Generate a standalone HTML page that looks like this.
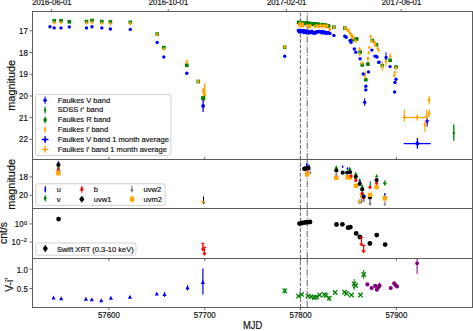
<!DOCTYPE html>
<html><head><meta charset="utf-8"><style>
html,body{margin:0;padding:0;background:#fff;}
svg{display:block;}
text{font-family:"Liberation Sans",sans-serif;fill:#111;stroke:#111;stroke-width:0.17px;}
</style></head><body>
<svg width="473" height="331" viewBox="0 0 473 331">
<rect width="473" height="331" fill="#fff"/>
<defs><clipPath id="c1"><rect x="32.5" y="11.5" width="440.0" height="148.0"/></clipPath>
<clipPath id="c2"><rect x="32.5" y="159.5" width="440.0" height="49.0"/></clipPath>
<clipPath id="c3"><rect x="32.5" y="208.5" width="440.0" height="50.0"/></clipPath>
<clipPath id="c4"><rect x="32.5" y="258.5" width="440.0" height="49.0"/></clipPath></defs>
<g><line x1="300.4" y1="159.5" x2="300.4" y2="11.5" stroke="#4a4a4a" stroke-width="0.85" stroke-dasharray="3.7 1.6"/>
<line x1="307.2" y1="159.5" x2="307.2" y2="11.5" stroke="#4a4a4a" stroke-width="0.85" stroke-dasharray="6.4 1.6 1 1.6"/>
<line x1="300.4" y1="208.5" x2="300.4" y2="159.5" stroke="#4a4a4a" stroke-width="0.85" stroke-dasharray="3.7 1.6"/>
<line x1="307.2" y1="208.5" x2="307.2" y2="159.5" stroke="#4a4a4a" stroke-width="0.85" stroke-dasharray="6.4 1.6 1 1.6"/>
<line x1="300.4" y1="258.5" x2="300.4" y2="208.5" stroke="#4a4a4a" stroke-width="0.85" stroke-dasharray="3.7 1.6"/>
<line x1="307.2" y1="258.5" x2="307.2" y2="208.5" stroke="#4a4a4a" stroke-width="0.85" stroke-dasharray="6.4 1.6 1 1.6"/>
<line x1="300.4" y1="307.5" x2="300.4" y2="258.5" stroke="#4a4a4a" stroke-width="0.85" stroke-dasharray="3.7 1.6"/>
<line x1="307.2" y1="307.5" x2="307.2" y2="258.5" stroke="#4a4a4a" stroke-width="0.85" stroke-dasharray="6.4 1.6 1 1.6"/></g>
<g><circle cx="50" cy="26.8" r="1.7" fill="#0000ff"/>
<rect x="52.4" y="19" width="3.6" height="3.6" fill="#008000"/>
<path d="M54.2 20.45L55.7 22.6L54.2 24.75L52.7 22.6Z" fill="#ffa500"/>
<circle cx="54.2" cy="27.9" r="1.7" fill="#0000ff"/>
<rect x="59.2" y="19" width="3.6" height="3.6" fill="#008000"/>
<path d="M61 20.45L62.5 22.6L61 24.75L59.5 22.6Z" fill="#ffa500"/>
<circle cx="61" cy="27.9" r="1.7" fill="#0000ff"/>
<rect x="67.5" y="20" width="3.6" height="3.6" fill="#008000"/>
<circle cx="69.3" cy="26.9" r="1.7" fill="#0000ff"/>
<rect x="84.7" y="19.8" width="3.6" height="3.6" fill="#008000"/>
<path d="M86.5 20.75L88 22.9L86.5 25.05L85 22.9Z" fill="#ffa500"/>
<circle cx="86.5" cy="27.9" r="1.7" fill="#0000ff"/>
<rect x="90.2" y="18.7" width="3.6" height="3.6" fill="#008000"/>
<path d="M92 20.25L93.5 22.4L92 24.55L90.5 22.4Z" fill="#ffa500"/>
<circle cx="92" cy="26.8" r="1.7" fill="#0000ff"/>
<rect x="100" y="19.8" width="3.6" height="3.6" fill="#008000"/>
<path d="M101.8 21.05L103.3 23.2L101.8 25.35L100.3 23.2Z" fill="#ffa500"/>
<circle cx="101.8" cy="27.9" r="1.7" fill="#0000ff"/>
<rect x="108.6" y="20.1" width="3.6" height="3.6" fill="#008000"/>
<path d="M110.4 21.55L111.9 23.7L110.4 25.85L108.9 23.7Z" fill="#ffa500"/>
<circle cx="110.4" cy="29" r="1.7" fill="#0000ff"/>
<rect x="128.5" y="20.5" width="3.6" height="3.6" fill="#008000"/>
<path d="M130.3 21.35L131.8 23.5L130.3 25.65L128.8 23.5Z" fill="#ffa500"/>
<circle cx="130.3" cy="29.4" r="1.7" fill="#0000ff"/>
<rect x="155.4" y="32.3" width="3.6" height="3.6" fill="#008000"/>
<path d="M157.2 32.45L158.7 34.6L157.2 36.75L155.7 34.6Z" fill="#ffa500"/>
<circle cx="157.2" cy="42.5" r="1.7" fill="#0000ff"/>
<rect x="162" y="45.8" width="3.6" height="3.6" fill="#008000"/>
<path d="M163.8 46.75L165.3 48.9L163.8 51.05L162.3 48.9Z" fill="#ffa500"/>
<circle cx="163.8" cy="57" r="1.7" fill="#0000ff"/>
<rect x="185" y="63.4" width="3.6" height="3.6" fill="#008000"/>
<path d="M186.8 59.65L188.3 61.8L186.8 63.95L185.3 61.8Z" fill="#ffa500"/>
<circle cx="186.8" cy="73.3" r="1.7" fill="#0000ff"/>
<rect x="196.5" y="79.7" width="3.6" height="3.6" fill="#008000"/>
<path d="M198.3 79.35L199.8 81.5L198.3 83.65L196.8 81.5Z" fill="#ffa500"/>
<rect x="282.9" y="45.4" width="3.6" height="3.6" fill="#008000"/>
<path d="M284.7 44.75L286.2 46.9L284.7 49.05L283.2 46.9Z" fill="#ffa500"/>
<circle cx="284.7" cy="56.3" r="1.7" fill="#0000ff"/>
<line x1="204.6" y1="83.3" x2="204.6" y2="101.4" stroke="#ffa500" stroke-width="1.4"/>
<path d="M203.6 87.7L205.7 90.5L203.6 93.3L201.5 90.5Z" fill="#ffa500"/>
<path d="M204.6 92.5L206.5 95.1L204.6 97.7L202.7 95.1Z" fill="#ffa500"/>
<path d="M204 90.3L205.7 92.6L204 94.9L202.3 92.6Z" fill="#ffa500"/>
<rect x="201.1" y="96.1" width="4" height="4" fill="#008000"/>
<line x1="203.1" y1="100" x2="203.1" y2="112" stroke="#0000ff" stroke-width="1.3"/>
<circle cx="203.1" cy="106" r="1.9" fill="#0000ff"/>
<line x1="186.8" y1="59.5" x2="186.8" y2="64" stroke="#ffa500" stroke-width="1"/>
<rect x="296.8" y="20.58" width="3.6" height="3.6" fill="#008000"/>
<rect x="298.3" y="20.85" width="3.6" height="3.6" fill="#008000"/>
<rect x="299.8" y="21.07" width="3.6" height="3.6" fill="#008000"/>
<rect x="301.3" y="21.36" width="3.6" height="3.6" fill="#008000"/>
<rect x="302.8" y="21.37" width="3.6" height="3.6" fill="#008000"/>
<rect x="304.3" y="21.68" width="3.6" height="3.6" fill="#008000"/>
<rect x="305.8" y="21.14" width="3.6" height="3.6" fill="#008000"/>
<rect x="307.3" y="21.66" width="3.6" height="3.6" fill="#008000"/>
<rect x="308.8" y="22.22" width="3.6" height="3.6" fill="#008000"/>
<rect x="310.3" y="22.16" width="3.6" height="3.6" fill="#008000"/>
<rect x="311.8" y="22.53" width="3.6" height="3.6" fill="#008000"/>
<rect x="313.3" y="22.07" width="3.6" height="3.6" fill="#008000"/>
<rect x="314.8" y="22.53" width="3.6" height="3.6" fill="#008000"/>
<rect x="316.3" y="22.52" width="3.6" height="3.6" fill="#008000"/>
<rect x="317.8" y="22.93" width="3.6" height="3.6" fill="#008000"/>
<rect x="319.3" y="23.13" width="3.6" height="3.6" fill="#008000"/>
<rect x="320.8" y="22.85" width="3.6" height="3.6" fill="#008000"/>
<rect x="322.3" y="23.19" width="3.6" height="3.6" fill="#008000"/>
<rect x="323.8" y="23.41" width="3.6" height="3.6" fill="#008000"/>
<rect x="325.3" y="24.09" width="3.6" height="3.6" fill="#008000"/>
<rect x="326.8" y="24.15" width="3.6" height="3.6" fill="#008000"/>
<path d="M299 22.5L300.6 24.8L299 27.1L297.4 24.8Z" fill="#ffa500"/>
<path d="M300.2 20.9L301.8 23.2L300.2 25.5L298.6 23.2Z" fill="#ffa500"/>
<path d="M301.5 22.9L303.1 25.2L301.5 27.5L299.9 25.2Z" fill="#ffa500"/>
<path d="M302.8 21.5L304.4 23.8L302.8 26.1L301.2 23.8Z" fill="#ffa500"/>
<path d="M303.2 23.5L304.8 25.8L303.2 28.1L301.6 25.8Z" fill="#ffa500"/>
<path d="M300.8 23.7L302.4 26L300.8 28.3L299.2 26Z" fill="#ffa500"/>
<path d="M307.2 23.5L308.8 25.8L307.2 28.1L305.6 25.8Z" fill="#ffa500"/>
<path d="M308.6 24.1L310.2 26.4L308.6 28.7L307 26.4Z" fill="#ffa500"/>
<path d="M310.4 23.3L312 25.6L310.4 27.9L308.8 25.6Z" fill="#ffa500"/>
<path d="M309.5 24.7L311.1 27L309.5 29.3L307.9 27Z" fill="#ffa500"/>
<path d="M315 24.1L316.6 26.4L315 28.7L313.4 26.4Z" fill="#ffa500"/>
<path d="M316.8 23.5L318.4 25.8L316.8 28.1L315.2 25.8Z" fill="#ffa500"/>
<path d="M318.6 24.3L320.2 26.6L318.6 28.9L317 26.6Z" fill="#ffa500"/>
<path d="M320.4 23.1L322 25.4L320.4 27.7L318.8 25.4Z" fill="#ffa500"/>
<path d="M322.3 24.3L323.9 26.6L322.3 28.9L320.7 26.6Z" fill="#ffa500"/>
<path d="M323.8 23.3L325.4 25.6L323.8 27.9L322.2 25.6Z" fill="#ffa500"/>
<path d="M325.6 24.3L327.2 26.6L325.6 28.9L324 26.6Z" fill="#ffa500"/>
<path d="M327.2 23.5L328.8 25.8L327.2 28.1L325.6 25.8Z" fill="#ffa500"/>
<circle cx="298.4" cy="30.53" r="1.75" fill="#0000ff"/>
<circle cx="299.3" cy="31.98" r="1.75" fill="#0000ff"/>
<circle cx="300.2" cy="30.58" r="1.75" fill="#0000ff"/>
<circle cx="301.1" cy="31.68" r="1.75" fill="#0000ff"/>
<circle cx="302" cy="30.65" r="1.75" fill="#0000ff"/>
<circle cx="302.9" cy="30.43" r="1.75" fill="#0000ff"/>
<circle cx="303.8" cy="32.39" r="1.75" fill="#0000ff"/>
<circle cx="304.7" cy="30.98" r="1.75" fill="#0000ff"/>
<circle cx="305.6" cy="31.04" r="1.75" fill="#0000ff"/>
<circle cx="306.5" cy="32.78" r="1.75" fill="#0000ff"/>
<circle cx="307.4" cy="32.59" r="1.75" fill="#0000ff"/>
<circle cx="308.3" cy="31.35" r="1.75" fill="#0000ff"/>
<circle cx="309.2" cy="32.88" r="1.75" fill="#0000ff"/>
<circle cx="310.1" cy="32" r="1.75" fill="#0000ff"/>
<circle cx="311" cy="32.35" r="1.75" fill="#0000ff"/>
<circle cx="311.9" cy="31.36" r="1.75" fill="#0000ff"/>
<circle cx="312.8" cy="33.03" r="1.75" fill="#0000ff"/>
<circle cx="313.7" cy="32.53" r="1.75" fill="#0000ff"/>
<circle cx="314.6" cy="33.19" r="1.75" fill="#0000ff"/>
<circle cx="315.5" cy="33.08" r="1.75" fill="#0000ff"/>
<circle cx="316.4" cy="31.82" r="1.75" fill="#0000ff"/>
<circle cx="317.3" cy="32" r="1.75" fill="#0000ff"/>
<circle cx="318.2" cy="31.62" r="1.75" fill="#0000ff"/>
<circle cx="319.1" cy="31.63" r="1.75" fill="#0000ff"/>
<circle cx="320" cy="31.5" r="1.75" fill="#0000ff"/>
<circle cx="320.9" cy="32.07" r="1.75" fill="#0000ff"/>
<circle cx="321.8" cy="32.78" r="1.75" fill="#0000ff"/>
<circle cx="322.7" cy="31.51" r="1.75" fill="#0000ff"/>
<circle cx="323.6" cy="33.04" r="1.75" fill="#0000ff"/>
<circle cx="324.5" cy="32.34" r="1.75" fill="#0000ff"/>
<circle cx="325.4" cy="32.33" r="1.75" fill="#0000ff"/>
<circle cx="326.3" cy="33.5" r="1.75" fill="#0000ff"/>
<circle cx="327.2" cy="32.8" r="1.75" fill="#0000ff"/>
<circle cx="328.1" cy="32.49" r="1.75" fill="#0000ff"/>
<circle cx="329" cy="32.9" r="1.75" fill="#0000ff"/>
<circle cx="329.9" cy="33.44" r="1.75" fill="#0000ff"/>
<path d="M329.7 27.15L331.2 29.3L329.7 31.45L328.2 29.3Z" fill="#ffa500"/>
<line x1="329.7" y1="27" x2="329.7" y2="31.5" stroke="#ffa500" stroke-width="1"/>
<rect x="332.1" y="25.4" width="3.6" height="3.6" fill="#008000"/>
<path d="M333.9 25.25L335.4 27.4L333.9 29.55L332.4 27.4Z" fill="#ffa500"/>
<circle cx="333.9" cy="35.5" r="1.7" fill="#0000ff"/>
<rect x="343" y="26.3" width="3.6" height="3.6" fill="#008000"/>
<rect x="351.2" y="37.6" width="3.6" height="3.6" fill="#008000"/>
<rect x="354.9" y="37.2" width="3.6" height="3.6" fill="#008000"/>
<rect x="353.6" y="37.7" width="3.6" height="3.6" fill="#008000"/>
<rect x="358.4" y="50.4" width="3.6" height="3.6" fill="#008000"/>
<rect x="360.4" y="63.1" width="3.6" height="3.6" fill="#008000"/>
<rect x="366.1" y="62.3" width="3.6" height="3.6" fill="#008000"/>
<rect x="364" y="77.9" width="3.6" height="3.6" fill="#008000"/>
<rect x="370.5" y="38.7" width="3.6" height="3.6" fill="#008000"/>
<rect x="374.7" y="43" width="3.6" height="3.6" fill="#008000"/>
<rect x="380.5" y="63.8" width="3.6" height="3.6" fill="#008000"/>
<rect x="388.3" y="58.5" width="3.6" height="3.6" fill="#008000"/>
<rect x="394.2" y="65.3" width="3.6" height="3.6" fill="#008000"/>
<path d="M330 26.75L331.5 28.9L330 31.05L328.5 28.9Z" fill="#ffa500"/>
<path d="M344.8 25.75L346.3 27.9L344.8 30.05L343.3 27.9Z" fill="#ffa500"/>
<path d="M348 28.45L349.5 30.6L348 32.75L346.5 30.6Z" fill="#ffa500"/>
<path d="M350.1 30.95L351.6 33.1L350.1 35.25L348.6 33.1Z" fill="#ffa500"/>
<path d="M352.2 34.15L353.7 36.3L352.2 38.45L350.7 36.3Z" fill="#ffa500"/>
<path d="M353.5 35.85L355 38L353.5 40.15L352 38Z" fill="#ffa500"/>
<path d="M359.6 46.85L361.1 49L359.6 51.15L358.1 49Z" fill="#ffa500"/>
<path d="M362.2 60.85L363.7 63L362.2 65.15L360.7 63Z" fill="#ffa500"/>
<path d="M365 72.95L366.5 75.1L365 77.25L363.5 75.1Z" fill="#ffa500"/>
<path d="M368 56.25L369.5 58.4L368 60.55L366.5 58.4Z" fill="#ffa500"/>
<path d="M369.3 45.45L370.8 47.6L369.3 49.75L367.8 47.6Z" fill="#ffa500"/>
<path d="M368.7 50.55L370.2 52.7L368.7 54.85L367.2 52.7Z" fill="#ffa500"/>
<path d="M359.8 51.85L361.3 54L359.8 56.15L358.3 54Z" fill="#ffa500"/>
<path d="M370.6 34.45L372.1 36.6L370.6 38.75L369.1 36.6Z" fill="#ffa500"/>
<path d="M372 38.85L373.5 41L372 43.15L370.5 41Z" fill="#ffa500"/>
<path d="M375 40.45L376.5 42.6L375 44.75L373.5 42.6Z" fill="#ffa500"/>
<path d="M375.5 42.85L377 45L375.5 47.15L374 45Z" fill="#ffa500"/>
<path d="M374.4 40.55L375.9 42.7L374.4 44.85L372.9 42.7Z" fill="#ffa500"/>
<path d="M378.5 48.05L380 50.2L378.5 52.35L377 50.2Z" fill="#ffa500"/>
<path d="M377.8 46.25L379.3 48.4L377.8 50.55L376.3 48.4Z" fill="#ffa500"/>
<path d="M382.3 64.45L383.8 66.6L382.3 68.75L380.8 66.6Z" fill="#ffa500"/>
<path d="M386.1 59.15L387.6 61.3L386.1 63.45L384.6 61.3Z" fill="#ffa500"/>
<path d="M390.3 54.25L391.8 56.4L390.3 58.55L388.8 56.4Z" fill="#ffa500"/>
<path d="M396 65.95L397.5 68.1L396 70.25L394.5 68.1Z" fill="#ffa500"/>
<path d="M395 70.45L396.5 72.6L395 74.75L393.5 72.6Z" fill="#ffa500"/>
<path d="M394.2 73.45L395.7 75.6L394.2 77.75L392.7 75.6Z" fill="#ffa500"/>
<path d="M347 27.35L348.5 29.5L347 31.65L345.5 29.5Z" fill="#ffa500"/>
<path d="M351 32.65L352.5 34.8L351 36.95L349.5 34.8Z" fill="#ffa500"/>
<path d="M348.5 28.35L350 30.5L348.5 32.65L347 30.5Z" fill="#ffa500"/>
<path d="M351.5 32.85L353 35L351.5 37.15L350 35Z" fill="#ffa500"/>
<path d="M353 35.35L354.5 37.5L353 39.65L351.5 37.5Z" fill="#ffa500"/>
<path d="M355.7 38.85L357.2 41L355.7 43.15L354.2 41Z" fill="#ffa500"/>
<line x1="368" y1="56.5" x2="368" y2="62.2" stroke="#ffa500" stroke-width="1"/>
<line x1="365" y1="71" x2="365" y2="79" stroke="#ffa500" stroke-width="1"/>
<line x1="382.3" y1="61" x2="382.3" y2="71" stroke="#ffa500" stroke-width="1"/>
<line x1="386" y1="57" x2="386" y2="66" stroke="#ffa500" stroke-width="1"/>
<line x1="390.3" y1="53" x2="390.3" y2="58" stroke="#ffa500" stroke-width="1"/>
<circle cx="344.8" cy="36.3" r="1.7" fill="#0000ff"/>
<circle cx="346.2" cy="37.2" r="1.7" fill="#0000ff"/>
<circle cx="350.1" cy="40.5" r="1.7" fill="#0000ff"/>
<circle cx="351.1" cy="42.2" r="1.7" fill="#0000ff"/>
<circle cx="354.3" cy="49" r="1.7" fill="#0000ff"/>
<circle cx="355.8" cy="52.2" r="1.7" fill="#0000ff"/>
<circle cx="360.1" cy="58.8" r="1.7" fill="#0000ff"/>
<circle cx="363.2" cy="74" r="1.7" fill="#0000ff"/>
<circle cx="368.5" cy="71.9" r="1.7" fill="#0000ff"/>
<circle cx="371.9" cy="50.1" r="1.7" fill="#0000ff"/>
<circle cx="374.9" cy="56.1" r="1.7" fill="#0000ff"/>
<circle cx="377" cy="57.1" r="1.7" fill="#0000ff"/>
<circle cx="378.7" cy="62.4" r="1.7" fill="#0000ff"/>
<circle cx="386.1" cy="57.5" r="1.7" fill="#0000ff"/>
<circle cx="390.1" cy="66.6" r="1.7" fill="#0000ff"/>
<circle cx="396" cy="79.3" r="1.7" fill="#0000ff"/>
<circle cx="395" cy="82.5" r="1.7" fill="#0000ff"/>
<circle cx="394.6" cy="92" r="1.7" fill="#0000ff"/>
<circle cx="365.8" cy="86.3" r="1.7" fill="#0000ff"/>
<circle cx="365.8" cy="89.9" r="1.7" fill="#0000ff"/>
<circle cx="376.5" cy="56.4" r="1.7" fill="#0000ff"/>
<circle cx="379.1" cy="62.1" r="1.7" fill="#0000ff"/>
<line x1="364.7" y1="98" x2="364.7" y2="106" stroke="#0000ff" stroke-width="1"/>
<circle cx="364.7" cy="102.2" r="1.7" fill="#0000ff"/>
<line x1="386" y1="52.2" x2="386" y2="60" stroke="#0000ff" stroke-width="1"/>
<line x1="403.8" y1="117.5" x2="427.2" y2="117.5" stroke="#ffa500" stroke-width="1.3"/>
<line x1="404.3" y1="110.1" x2="404.3" y2="121.7" stroke="#ffa500" stroke-width="1.2"/>
<path d="M404.3 114.8L406 117.1L404.3 119.4L402.6 117.1Z" fill="#ffa500"/>
<path d="M417.2 115L418.9 117.3L417.2 119.6L415.5 117.3Z" fill="#ffa500"/>
<line x1="417.2" y1="114.5" x2="417.2" y2="120.5" stroke="#ffa500" stroke-width="1.2"/>
<line x1="426.7" y1="110" x2="426.7" y2="122" stroke="#ffa500" stroke-width="1.2"/>
<path d="M426.7 114.1L428.4 116.4L426.7 118.7L425 116.4Z" fill="#ffa500"/>
<line x1="429.2" y1="96.3" x2="429.2" y2="104.4" stroke="#ffa500" stroke-width="1.2"/>
<path d="M429.2 97.8L430.9 100.1L429.2 102.4L427.5 100.1Z" fill="#ffa500"/>
<line x1="429.2" y1="109.5" x2="429.2" y2="117" stroke="#ffa500" stroke-width="1.2"/>
<path d="M429.2 111L430.9 113.3L429.2 115.6L427.5 113.3Z" fill="#ffa500"/>
<line x1="425" y1="120.6" x2="425" y2="132.3" stroke="#ffa500" stroke-width="1.2"/>
<path d="M425 122.6L426.7 124.9L425 127.2L423.3 124.9Z" fill="#ffa500"/>
<line x1="427.2" y1="118.5" x2="427.2" y2="126.5" stroke="#0000ff" stroke-width="1"/>
<path d="M425.2 120.2L429.2 120.2L427.2 124Z" fill="#0000ff"/>
<line x1="453.8" y1="124.5" x2="453.8" y2="140.7" stroke="#008000" stroke-width="1.3"/>
<circle cx="453.8" cy="132.9" r="1.2" fill="#008000"/>
<line x1="403.8" y1="143.6" x2="430.7" y2="143.6" stroke="#0000ff" stroke-width="1.3"/>
<line x1="417.4" y1="138.1" x2="417.4" y2="148.7" stroke="#0000ff" stroke-width="1.3"/>
<circle cx="417.4" cy="143.6" r="2" fill="#0000ff"/>
<rect x="56.2" y="171.1" width="4.4" height="4.4" fill="#ffa500"/>
<line x1="58.4" y1="166.5" x2="58.4" y2="170.18" stroke="#808080" stroke-width="1"/>
<path d="M56.8 169.3L60 169.3L58.4 171.5Z" fill="#808080"/>
<ellipse cx="58.4" cy="162.2" rx="0.8" ry="1.3" fill="#0000ff"/>
<circle cx="58.4" cy="164.9" r="2.1" fill="#000000"/>
<path d="M56.6 171.2L58.4 167.6L60.2 171.2" stroke="#ff0000" stroke-width="1" fill="none"/>
<line x1="57.6" y1="166.5" x2="57.6" y2="169" stroke="#008000" stroke-width="0.8"/>
<line x1="59.2" y1="166.5" x2="59.2" y2="169" stroke="#008000" stroke-width="0.8"/>
<ellipse cx="300.5" cy="165.7" rx="0.6" ry="1" fill="#0000ff" opacity="0.6"/>
<ellipse cx="306.6" cy="164.6" rx="0.8" ry="1.3" fill="#0000ff"/>
<ellipse cx="309" cy="165.7" rx="0.8" ry="1.3" fill="#0000ff"/>
<line x1="310.2" y1="169.5" x2="310.2" y2="173.18" stroke="#808080" stroke-width="1"/>
<path d="M308.6 172.3L311.8 172.3L310.2 174.5Z" fill="#808080"/>
<ellipse cx="306.2" cy="171" rx="1" ry="1" fill="#ff0000" opacity="0.5"/><ellipse cx="308" cy="171" rx="1" ry="1" fill="#ff0000" opacity="0.5"/>
<rect x="304.8" y="171.8" width="4.2" height="4.2" fill="#ffa500"/>
<rect x="305.1" y="172.3" width="4.2" height="4.2" fill="#ffa500"/>
<circle cx="304.3" cy="168.8" r="2.2" fill="#000000"/>
<circle cx="305.8" cy="168.4" r="2.2" fill="#000000"/>
<circle cx="307.5" cy="167.7" r="2.2" fill="#000000"/>
<circle cx="308.4" cy="168" r="2.2" fill="#000000"/>
<rect x="334.1" y="175.6" width="4.4" height="4.4" fill="#ffa500"/>
<line x1="336.3" y1="171.5" x2="336.3" y2="175.18" stroke="#808080" stroke-width="1"/>
<path d="M334.7 174.3L337.9 174.3L336.3 176.5Z" fill="#808080"/>
<path d="M336.3 165.16L338 168.56L334.6 168.56Z" fill="#008000"/>
<line x1="336.3" y1="167.2" x2="336.3" y2="168.7" stroke="#008000" stroke-width="1"/>
<circle cx="336.3" cy="170.4" r="2.1" fill="#000000"/>
<ellipse cx="342.7" cy="166.8" rx="0.8" ry="1.3" fill="#0000ff"/>
<circle cx="342.7" cy="172.7" r="2.1" fill="#000000"/>
<rect x="345.4" y="175" width="4.4" height="4.4" fill="#ffa500"/>
<rect x="347.8" y="175.2" width="4.4" height="4.4" fill="#ffa500"/>
<ellipse cx="347.5" cy="168.6" rx="0.8" ry="1.3" fill="#0000ff"/>
<path d="M349.7 166.56L351.4 169.96L348 169.96Z" fill="#008000"/>
<circle cx="347.2" cy="172.6" r="2.1" fill="#000000"/>
<circle cx="350" cy="172.2" r="2.1" fill="#000000"/>
<ellipse cx="351.2" cy="176" rx="1.5" ry="1.8" fill="#ff0000"/>
<rect x="353.6" y="183.6" width="4.4" height="4.4" fill="#ffa500"/>
<ellipse cx="355.8" cy="180.4" rx="1.5" ry="1.8" fill="#ff0000"/>
<path d="M355.8 171.56L357.5 174.96L354.1 174.96Z" fill="#008000"/>
<line x1="355.8" y1="173.6" x2="355.8" y2="175.1" stroke="#008000" stroke-width="1"/>
<circle cx="355.8" cy="176.8" r="2.1" fill="#000000"/>
<path d="M359.8 177.96L361.5 181.36L358.1 181.36Z" fill="#008000"/>
<line x1="359.8" y1="180" x2="359.8" y2="181.5" stroke="#008000" stroke-width="1"/>
<ellipse cx="359.8" cy="181.5" rx="0.8" ry="1.3" fill="#0000ff"/>
<circle cx="359.8" cy="183.9" r="2.1" fill="#000000"/>
<rect x="360" y="193.5" width="4.4" height="4.4" fill="#ffa500"/>
<ellipse cx="362.2" cy="193.3" rx="1.5" ry="1.8" fill="#ff0000"/>
<path d="M362.2 184.26L363.9 187.66L360.5 187.66Z" fill="#008000"/>
<line x1="362.2" y1="186.3" x2="362.2" y2="187.8" stroke="#008000" stroke-width="1"/>
<circle cx="362.2" cy="189.4" r="2.1" fill="#000000"/>
<line x1="359.8" y1="199" x2="359.8" y2="203.18" stroke="#808080" stroke-width="1"/>
<path d="M358.2 202.3L361.4 202.3L359.8 204.5Z" fill="#808080"/>
<line x1="361.5" y1="198.5" x2="361.5" y2="202.18" stroke="#808080" stroke-width="1"/>
<path d="M359.9 201.3L363.1 201.3L361.5 203.5Z" fill="#808080"/>
<line x1="363.7" y1="197.5" x2="363.7" y2="201.18" stroke="#808080" stroke-width="1"/>
<path d="M362.1 200.3L365.3 200.3L363.7 202.5Z" fill="#808080"/>
<ellipse cx="363.7" cy="198" rx="1.5" ry="1.8" fill="#ff0000"/>
<circle cx="363.7" cy="196.5" r="2.1" fill="#000000"/>
<ellipse cx="363.3" cy="195.7" rx="0.8" ry="1.3" fill="#0000ff"/>
<rect x="357.7" y="200.4" width="2.6" height="2.6" fill="#ffa500"/>
<line x1="370.3" y1="181.3" x2="370.3" y2="186" stroke="#008000" stroke-width="1.1"/>
<line x1="370" y1="200" x2="370" y2="203.68" stroke="#808080" stroke-width="1"/>
<path d="M368.4 202.8L371.6 202.8L370 205Z" fill="#808080"/>
<circle cx="370" cy="197.6" r="2.1" fill="#000000"/>
<rect x="367.8" y="192.7" width="4.4" height="4.4" fill="#ffa500"/>
<ellipse cx="370" cy="187.3" rx="1.5" ry="1.8" fill="#ff0000"/>
<line x1="370" y1="200" x2="370" y2="204.68" stroke="#808080" stroke-width="1"/>
<path d="M368.4 203.8L371.6 203.8L370 206Z" fill="#808080"/>
<rect x="374.4" y="184.8" width="4.4" height="4.4" fill="#ffa500"/>
<ellipse cx="376.6" cy="183.1" rx="1.5" ry="1.8" fill="#ff0000"/>
<path d="M376.6 173.96L378.3 177.36L374.9 177.36Z" fill="#008000"/>
<line x1="376.6" y1="176" x2="376.6" y2="177.5" stroke="#008000" stroke-width="1"/>
<circle cx="376.6" cy="180" r="2.1" fill="#000000"/>
<line x1="384.9" y1="201" x2="384.9" y2="204.68" stroke="#808080" stroke-width="1"/>
<path d="M383.3 203.8L386.5 203.8L384.9 206Z" fill="#808080"/>
<line x1="384.9" y1="180" x2="384.9" y2="183.84" stroke="#008000" stroke-width="1.1"/>
<path d="M382.7 182.4L387.1 182.4L384.9 186Z" fill="#008000"/>
<ellipse cx="384.9" cy="194.2" rx="0.8" ry="1.3" fill="#0000ff"/>
<circle cx="384.9" cy="197.8" r="2.1" fill="#000000"/>
<rect x="382.7" y="196.2" width="4.4" height="4.4" fill="#ffa500"/>
<line x1="203.5" y1="196.3" x2="203.5" y2="202.88" stroke="#000000" stroke-width="1"/>
<path d="M201.9 202L205.1 202L203.5 204.2Z" fill="#000000"/>
<rect x="201.4" y="200.8" width="2.4" height="2.4" fill="#ffa500"/>
<circle cx="58.6" cy="219.1" r="2.4" fill="#000000"/>
<circle cx="299.5" cy="223.6" r="2.4" fill="#000000"/>
<circle cx="302" cy="223" r="2.4" fill="#000000"/>
<circle cx="305" cy="222.5" r="2.4" fill="#000000"/>
<circle cx="307.5" cy="222.2" r="2.4" fill="#000000"/>
<circle cx="310" cy="222" r="2.4" fill="#000000"/>
<circle cx="336.5" cy="224.5" r="2.4" fill="#000000"/>
<circle cx="342.4" cy="224.3" r="2.4" fill="#000000"/>
<circle cx="348.1" cy="227.7" r="2.4" fill="#000000"/>
<circle cx="350.3" cy="227.2" r="2.4" fill="#000000"/>
<circle cx="356.2" cy="233.4" r="2.4" fill="#000000"/>
<circle cx="359.8" cy="237" r="2.4" fill="#000000"/>
<circle cx="376.7" cy="235.1" r="2.4" fill="#000000"/>
<circle cx="369.9" cy="243.5" r="2.4" fill="#000000"/>
<circle cx="385.1" cy="244.6" r="2.4" fill="#000000"/>
<line x1="359.6" y1="237.4" x2="363.4" y2="237.4" stroke="#ff0000" stroke-width="1.1"/>
<line x1="361.4" y1="237.4" x2="361.4" y2="244.68" stroke="#ff0000" stroke-width="1.3"/>
<path d="M359.2 243.4L363.6 243.4L361.4 246.6Z" fill="#ff0000"/>
<line x1="361.6" y1="245.4" x2="365.6" y2="245.4" stroke="#ff0000" stroke-width="1.1"/>
<line x1="363.6" y1="245.4" x2="363.6" y2="251.58" stroke="#ff0000" stroke-width="1.3"/>
<path d="M361.4 250.3L365.8 250.3L363.6 253.5Z" fill="#ff0000"/>
<line x1="201.3" y1="243.3" x2="204.5" y2="243.3" stroke="#ff0000" stroke-width="1.1"/>
<line x1="202.9" y1="243.3" x2="202.9" y2="249.68" stroke="#ff0000" stroke-width="1.3"/>
<path d="M200.7 248.4L205.1 248.4L202.9 251.6Z" fill="#ff0000"/>
<line x1="202.5" y1="247.2" x2="206.3" y2="247.2" stroke="#ff0000" stroke-width="1.1"/>
<line x1="204.4" y1="247.2" x2="204.4" y2="254.08" stroke="#ff0000" stroke-width="1.3"/>
<path d="M202.2 252.8L206.6 252.8L204.4 256Z" fill="#ff0000"/>
<path d="M53.5 295.44L55.55 299.54L51.45 299.54Z" fill="#0000ff"/>
<path d="M61.2 296.14L63.25 300.24L59.15 300.24Z" fill="#0000ff"/>
<path d="M85.9 296.74L87.95 300.84L83.85 300.84Z" fill="#0000ff"/>
<path d="M91.8 297.14L93.85 301.24L89.75 301.24Z" fill="#0000ff"/>
<path d="M101.3 298.24L103.35 302.34L99.25 302.34Z" fill="#0000ff"/>
<path d="M110.9 295.74L112.95 299.84L108.85 299.84Z" fill="#0000ff"/>
<path d="M129.9 294.64L131.95 298.74L127.85 298.74Z" fill="#0000ff"/>
<path d="M156.8 291.44L158.85 295.54L154.75 295.54Z" fill="#0000ff"/>
<path d="M164.5 291.94L166.55 296.04L162.45 296.04Z" fill="#0000ff"/>
<path d="M187.5 285.14L189.55 289.24L185.45 289.24Z" fill="#0000ff"/>
<path d="M202.9 279.84L204.95 283.94L200.85 283.94Z" fill="#0000ff"/>
<line x1="164.5" y1="292" x2="164.5" y2="297" stroke="#0000ff" stroke-width="1"/>
<line x1="187.5" y1="285" x2="187.5" y2="290.5" stroke="#0000ff" stroke-width="1"/>
<line x1="202.9" y1="268.6" x2="202.9" y2="294.4" stroke="#0000ff" stroke-width="1.2"/>
<path d="M282.6 288.6L287 293M282.6 293L287 288.6" stroke="#008000" stroke-width="1.3" fill="none"/>
<path d="M296.3 293.9L300.7 298.3M296.3 298.3L300.7 293.9" stroke="#008000" stroke-width="1.3" fill="none"/>
<path d="M299.5 292.2L303.9 296.6M299.5 296.6L303.9 292.2" stroke="#008000" stroke-width="1.3" fill="none"/>
<path d="M305.9 293.9L310.3 298.3M305.9 298.3L310.3 293.9" stroke="#008000" stroke-width="1.3" fill="none"/>
<path d="M309 294.5L313.4 298.9M309 298.9L313.4 294.5" stroke="#008000" stroke-width="1.3" fill="none"/>
<path d="M312.2 295.3L316.6 299.7M312.2 299.7L316.6 295.3" stroke="#008000" stroke-width="1.3" fill="none"/>
<path d="M314.3 294.9L318.7 299.3M314.3 299.3L318.7 294.9" stroke="#008000" stroke-width="1.3" fill="none"/>
<path d="M317.5 292.8L321.9 297.2M317.5 297.2L321.9 292.8" stroke="#008000" stroke-width="1.3" fill="none"/>
<path d="M322.3 292.2L326.7 296.6M322.3 296.6L326.7 292.2" stroke="#008000" stroke-width="1.3" fill="none"/>
<path d="M323.8 293.4L328.2 297.8M323.8 297.8L328.2 293.4" stroke="#008000" stroke-width="1.3" fill="none"/>
<path d="M327 296L331.4 300.4M327 300.4L331.4 296" stroke="#008000" stroke-width="1.3" fill="none"/>
<path d="M332.9 290.3L337.3 294.7M332.9 294.7L337.3 290.3" stroke="#008000" stroke-width="1.3" fill="none"/>
<path d="M342.2 290L346.6 294.4M342.2 294.4L346.6 290" stroke="#008000" stroke-width="1.3" fill="none"/>
<path d="M344.3 291.3L348.7 295.7M344.3 295.7L348.7 291.3" stroke="#008000" stroke-width="1.3" fill="none"/>
<path d="M349.2 292.8L353.6 297.2M349.2 297.2L353.6 292.8" stroke="#008000" stroke-width="1.3" fill="none"/>
<path d="M351.9 281.6L356.3 286M351.9 286L356.3 281.6" stroke="#008000" stroke-width="1.3" fill="none"/>
<path d="M353.4 283.3L357.8 287.7M353.4 287.7L357.8 283.3" stroke="#008000" stroke-width="1.3" fill="none"/>
<path d="M358.3 292.8L362.7 297.2M358.3 297.2L362.7 292.8" stroke="#008000" stroke-width="1.3" fill="none"/>
<path d="M361.5 272.3L365.9 276.7M361.5 276.7L365.9 272.3" stroke="#008000" stroke-width="1.3" fill="none"/>
<line x1="284.8" y1="288" x2="284.8" y2="293.5" stroke="#008000" stroke-width="1"/>
<line x1="354.1" y1="279" x2="354.1" y2="290" stroke="#008000" stroke-width="1"/>
<line x1="363.7" y1="270" x2="363.7" y2="279" stroke="#008000" stroke-width="1"/>
<line x1="329.2" y1="296" x2="329.2" y2="301" stroke="#008000" stroke-width="1"/>
<circle cx="367.4" cy="284.4" r="2.1" fill="#800080"/>
<circle cx="371.6" cy="288" r="2.1" fill="#800080"/>
<circle cx="375.2" cy="285.9" r="2.1" fill="#800080"/>
<circle cx="376.9" cy="289.7" r="2.1" fill="#800080"/>
<circle cx="378.6" cy="287.2" r="2.1" fill="#800080"/>
<circle cx="379.5" cy="285.5" r="2.1" fill="#800080"/>
<circle cx="390.7" cy="288" r="2.1" fill="#800080"/>
<circle cx="394.2" cy="283.4" r="2.1" fill="#800080"/>
<circle cx="395.5" cy="285.1" r="2.1" fill="#800080"/>
<circle cx="397" cy="286.5" r="2.1" fill="#800080"/>
<line x1="379.5" y1="282.5" x2="379.5" y2="288" stroke="#800080" stroke-width="1"/>
<line x1="417.1" y1="258.1" x2="417.1" y2="273.9" stroke="#800080" stroke-width="1"/>
<circle cx="417.1" cy="263.3" r="1.9" fill="#800080"/></g>
<g><rect x="35.5" y="94.5" width="135.4" height="60.900000000000006" rx="2" ry="2" fill="#ffffff" fill-opacity="0.8" stroke="#cccccc" stroke-width="0.9"/>
<line x1="45.1" y1="96.6" x2="45.1" y2="103.8" stroke="#0000ff" stroke-width="1"/>
<circle cx="45.1" cy="100.2" r="1.8" fill="#0000ff"/>
<line x1="45.1" y1="106.4" x2="45.1" y2="113.6" stroke="#008000" stroke-width="1"/>
<ellipse cx="45.1" cy="110.0" rx="1.1" ry="1.6" fill="#008000"/>
<line x1="45.1" y1="116.3" x2="45.1" y2="123.5" stroke="#008000" stroke-width="1"/>
<ellipse cx="45.1" cy="119.9" rx="1.8" ry="2.0" fill="#008000"/>
<line x1="45.1" y1="126.3" x2="45.1" y2="133.1" stroke="#ffa500" stroke-width="1"/>
<path d="M45.1 127.7L46.4 129.7L45.1 131.7L43.8 129.7Z" fill="#ffa500"/>
<line x1="45.1" y1="136" x2="45.1" y2="143" stroke="#0000ff" stroke-width="1.3"/>
<line x1="41.7" y1="139.6" x2="48.5" y2="139.6" stroke="#0000ff" stroke-width="1.3"/>
<path d="M42.7 138.4L47.5 138.4L45.1 142.2Z" fill="#0000ff"/>
<line x1="45.1" y1="145.8" x2="45.1" y2="152.8" stroke="#ffa500" stroke-width="1.3"/>
<line x1="41.7" y1="149.4" x2="48.5" y2="149.4" stroke="#ffa500" stroke-width="1.3"/>
<path d="M45.1 147.5L46.4 149.4L45.1 151.3L43.8 149.4Z" fill="#ffa500"/>
<text x="57.7" y="102.6" font-size="7.55" text-anchor="start" >Faulkes V band</text>
<text x="57.7" y="112.4" font-size="7.55" text-anchor="start" >SDSS r' band</text>
<text x="57.7" y="122.3" font-size="7.55" text-anchor="start" >Faulkes R band</text>
<text x="57.7" y="132.1" font-size="7.55" text-anchor="start" >Faulkes i' band</text>
<text x="57.7" y="142" font-size="7.55" text-anchor="start" >Faulkes V band 1 month average</text>
<text x="57.7" y="151.8" font-size="7.55" text-anchor="start" >Faulkes i' band 1 month average</text>
<rect x="35.8" y="183.8" width="129.39999999999998" height="21.599999999999994" rx="2" ry="2" fill="#ffffff" fill-opacity="0.8" stroke="#cccccc" stroke-width="0.9"/>
<ellipse cx="45.3" cy="189.3" rx="0.85" ry="3.4" fill="#0000ff"/>
<line x1="45.2" y1="195" x2="45.2" y2="200.2" stroke="#008000" stroke-width="1.1"/>
<path d="M43.5 197.2L46.9 197.2L45.2 202.0Z" fill="#008000"/>
<line x1="81.8" y1="185.9" x2="81.8" y2="192.7" stroke="#ff0000" stroke-width="1"/>
<ellipse cx="81.8" cy="189.3" rx="1.5" ry="2.0" fill="#ff0000"/>
<line x1="81.8" y1="195.9" x2="81.8" y2="202.5" stroke="#000000" stroke-width="1.2"/>
<circle cx="81.8" cy="199.2" r="2.25" fill="#000000"/>
<line x1="131.9" y1="186.1" x2="131.9" y2="190.8" stroke="#808080" stroke-width="1.3"/>
<path d="M130 189.3L133.8 189.3L131.9 192.70000000000002Z" fill="#808080"/>
<line x1="132.1" y1="196.2" x2="132.1" y2="202.2" stroke="#ffa500" stroke-width="1.3"/>
<path d="M130.9 196.6L133.3 196.6L134.4 198.0L134.4 200.39999999999998L133.3 201.79999999999998L130.9 201.79999999999998L129.8 200.39999999999998L129.8 198.0Z" fill="#ffa500"/>
<text x="56.7" y="192" font-size="7.55" text-anchor="start" >u</text>
<text x="56.7" y="201.9" font-size="7.55" text-anchor="start" >v</text>
<text x="93.8" y="192" font-size="7.55" text-anchor="start" >b</text>
<text x="93.8" y="201.9" font-size="7.55" text-anchor="start" >uvw1</text>
<text x="143.6" y="192" font-size="7.55" text-anchor="start" >uvw2</text>
<text x="143.6" y="201.9" font-size="7.55" text-anchor="start" >uvm2</text>
<rect x="35.8" y="243.0" width="100.2" height="12.199999999999989" rx="2" ry="2" fill="#ffffff" fill-opacity="0.8" stroke="#cccccc" stroke-width="0.9"/>
<line x1="45.3" y1="245.1" x2="45.3" y2="251.9" stroke="#000000" stroke-width="1.2"/>
<circle cx="45.3" cy="248.5" r="2.3" fill="#000000"/>
<text x="56.9" y="251.5" font-size="7.55" text-anchor="start" >Swift XRT (0.3-10 keV)</text></g>
<g><rect x="32.5" y="11.5" width="440.0" height="148.0" fill="none" stroke="#5c5c5c" stroke-width="1"/>
<rect x="32.5" y="159.5" width="440.0" height="49.0" fill="none" stroke="#5c5c5c" stroke-width="1"/>
<rect x="32.5" y="208.5" width="440.0" height="50.0" fill="none" stroke="#5c5c5c" stroke-width="1"/>
<rect x="32.5" y="258.5" width="440.0" height="49.0" fill="none" stroke="#5c5c5c" stroke-width="1"/>
<line x1="108.9" y1="156.9" x2="108.9" y2="159.5" stroke="#5c5c5c" stroke-width="0.9"/>
<line x1="108.9" y1="258.5" x2="108.9" y2="261.1" stroke="#5c5c5c" stroke-width="0.9"/>
<line x1="108.9" y1="307.5" x2="108.9" y2="310.1" stroke="#5c5c5c" stroke-width="0.9"/>
<line x1="204.73" y1="156.9" x2="204.73" y2="159.5" stroke="#5c5c5c" stroke-width="0.9"/>
<line x1="204.73" y1="258.5" x2="204.73" y2="261.1" stroke="#5c5c5c" stroke-width="0.9"/>
<line x1="204.73" y1="307.5" x2="204.73" y2="310.1" stroke="#5c5c5c" stroke-width="0.9"/>
<line x1="300.56" y1="156.9" x2="300.56" y2="159.5" stroke="#5c5c5c" stroke-width="0.9"/>
<line x1="300.56" y1="258.5" x2="300.56" y2="261.1" stroke="#5c5c5c" stroke-width="0.9"/>
<line x1="300.56" y1="307.5" x2="300.56" y2="310.1" stroke="#5c5c5c" stroke-width="0.9"/>
<line x1="396.39" y1="156.9" x2="396.39" y2="159.5" stroke="#5c5c5c" stroke-width="0.9"/>
<line x1="396.39" y1="258.5" x2="396.39" y2="261.1" stroke="#5c5c5c" stroke-width="0.9"/>
<line x1="396.39" y1="307.5" x2="396.39" y2="310.1" stroke="#5c5c5c" stroke-width="0.9"/>
<line x1="51.6" y1="9" x2="51.6" y2="11.5" stroke="#5c5c5c" stroke-width="0.9"/>
<line x1="168.2" y1="9" x2="168.2" y2="11.5" stroke="#5c5c5c" stroke-width="0.9"/>
<line x1="286.3" y1="9" x2="286.3" y2="11.5" stroke="#5c5c5c" stroke-width="0.9"/>
<line x1="401.2" y1="9" x2="401.2" y2="11.5" stroke="#5c5c5c" stroke-width="0.9"/>
<line x1="29.5" y1="30.8" x2="32.5" y2="30.8" stroke="#5c5c5c" stroke-width="0.9"/>
<line x1="29.5" y1="52.5" x2="32.5" y2="52.5" stroke="#5c5c5c" stroke-width="0.9"/>
<line x1="29.5" y1="74.2" x2="32.5" y2="74.2" stroke="#5c5c5c" stroke-width="0.9"/>
<line x1="29.5" y1="96" x2="32.5" y2="96" stroke="#5c5c5c" stroke-width="0.9"/>
<line x1="29.5" y1="117.7" x2="32.5" y2="117.7" stroke="#5c5c5c" stroke-width="0.9"/>
<line x1="29.5" y1="139.4" x2="32.5" y2="139.4" stroke="#5c5c5c" stroke-width="0.9"/>
<line x1="29.5" y1="176.9" x2="32.5" y2="176.9" stroke="#5c5c5c" stroke-width="0.9"/>
<line x1="29.5" y1="195.3" x2="32.5" y2="195.3" stroke="#5c5c5c" stroke-width="0.9"/>
<line x1="29.5" y1="223.9" x2="32.5" y2="223.9" stroke="#5c5c5c" stroke-width="0.9"/>
<line x1="29.5" y1="242" x2="32.5" y2="242" stroke="#5c5c5c" stroke-width="0.9"/>
<line x1="29.5" y1="269.1" x2="32.5" y2="269.1" stroke="#5c5c5c" stroke-width="0.9"/>
<line x1="29.5" y1="288.5" x2="32.5" y2="288.5" stroke="#5c5c5c" stroke-width="0.9"/></g>
<g><text transform="translate(51.9,5.3) scale(1,1.18)" font-size="7.7" text-anchor="middle" >2016-06-01</text>
<text transform="translate(168.5,5.3) scale(1,1.18)" font-size="7.7" text-anchor="middle" >2016-10-01</text>
<text transform="translate(286.6,5.3) scale(1,1.18)" font-size="7.7" text-anchor="middle" >2017-02-01</text>
<text transform="translate(401.5,5.3) scale(1,1.18)" font-size="7.7" text-anchor="middle" >2017-06-01</text>
<text transform="translate(108.9,317.9) scale(1,1.15)" font-size="7.9" text-anchor="middle" >57600</text>
<text transform="translate(204.73,317.9) scale(1,1.15)" font-size="7.9" text-anchor="middle" >57700</text>
<text transform="translate(300.56,317.9) scale(1,1.15)" font-size="7.9" text-anchor="middle" >57800</text>
<text transform="translate(396.39,317.9) scale(1,1.15)" font-size="7.9" text-anchor="middle" >57900</text>
<text transform="translate(27.8,33.8) scale(1,1.15)" font-size="7.9" text-anchor="end" >17</text>
<text transform="translate(27.8,55.5) scale(1,1.15)" font-size="7.9" text-anchor="end" >18</text>
<text transform="translate(27.8,77.2) scale(1,1.15)" font-size="7.9" text-anchor="end" >19</text>
<text transform="translate(27.8,99) scale(1,1.15)" font-size="7.9" text-anchor="end" >20</text>
<text transform="translate(27.8,120.7) scale(1,1.15)" font-size="7.9" text-anchor="end" >21</text>
<text transform="translate(27.8,142.4) scale(1,1.15)" font-size="7.9" text-anchor="end" >22</text>
<text transform="translate(27.8,179.9) scale(1,1.15)" font-size="7.9" text-anchor="end" >18</text>
<text transform="translate(27.8,198.3) scale(1,1.15)" font-size="7.9" text-anchor="end" >20</text>
<text transform="translate(27.8,272.7) scale(1,1.15)" font-size="7.9" text-anchor="end" >1.0</text>
<text transform="translate(27.8,292.1) scale(1,1.15)" font-size="7.9" text-anchor="end" >0.5</text>
<text transform="translate(23.6,227) scale(1,1.1)" font-size="7.9" text-anchor="end">10</text><text x="23.9" y="224.6" font-size="5.6">0</text>
<text transform="translate(20.3,244.9) scale(1,1.1)" font-size="7.9" text-anchor="end">10</text><text x="20.5" y="242.4" font-size="5.6">−2</text>
<text transform="translate(252.7,329.2) scale(1,1.12)" font-size="9.4" text-anchor="middle">MJD</text>
<text transform="translate(15,85.3) rotate(-90)" font-size="10.9" text-anchor="middle">magnitude</text>
<text transform="translate(15,184.4) rotate(-90)" font-size="10.9" text-anchor="middle">magnitude</text>
<text transform="translate(6.7,233) rotate(-90)" font-size="10.5" text-anchor="middle">cnt/s</text>
<text transform="translate(13,284.8) rotate(-90)" font-size="10.3" text-anchor="middle">V-i'</text></g>
</svg>
</body></html>
